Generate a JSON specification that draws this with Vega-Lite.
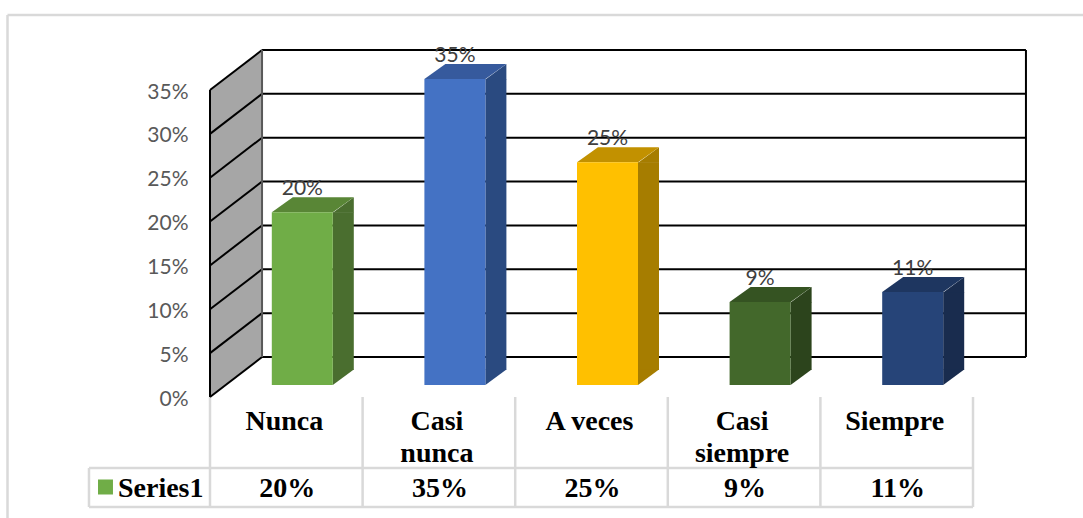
{
"$schema":"https://vega.github.io/schema/vega-lite/v6.json",
"width":763,"height":307,
"autosize":{"type":"none"},
"padding":{"left":210,"top":90,"right":110,"bottom":121},
"background":"white",
"view":{"stroke":null},
"config":{"view":{"stroke":null}},
"datasets":{
"respuestas":[
{"respuesta":"Nunca","rotulo":"Nunca","valor":0.197},
{"respuesta":"Casi nunca","rotulo":"Casi\nnunca","valor":0.349},
{"respuesta":"A veces","rotulo":"A veces","valor":0.254},
{"respuesta":"Casi siempre","rotulo":"Casi\nsiempre","valor":0.0946},
{"respuesta":"Siempre","rotulo":"Siempre","valor":0.106}
],
"pared":[
{"col":0,"bajo":0,"alto":0.35},
{"col":0.341,"bajo":0.0456,"alto":0.3956}
],
"negras":[
{"c1":0.341,"c2":5.347,"p1":0.0456,"p2":0.0456},
{"c1":0.341,"c2":5.347,"p1":0.0956,"p2":0.0956},
{"c1":0.341,"c2":5.347,"p1":0.1456,"p2":0.1456},
{"c1":0.341,"c2":5.347,"p1":0.1956,"p2":0.1956},
{"c1":0.341,"c2":5.347,"p1":0.2456,"p2":0.2456},
{"c1":0.341,"c2":5.347,"p1":0.2956,"p2":0.2956},
{"c1":0.341,"c2":5.347,"p1":0.3456,"p2":0.3456},
{"c1":0.341,"c2":5.347,"p1":0.3956,"p2":0.3956},
{"c1":0,"c2":0.341,"p1":0,"p2":0.0456},
{"c1":0,"c2":0.341,"p1":0.05,"p2":0.0956},
{"c1":0,"c2":0.341,"p1":0.10,"p2":0.1456},
{"c1":0,"c2":0.341,"p1":0.15,"p2":0.1956},
{"c1":0,"c2":0.341,"p1":0.20,"p2":0.2456},
{"c1":0,"c2":0.341,"p1":0.25,"p2":0.2956},
{"c1":0,"c2":0.341,"p1":0.30,"p2":0.3456},
{"c1":0,"c2":0.341,"p1":0.35,"p2":0.3956},
{"c1":0,"c2":0,"p1":0,"p2":0.35},
{"c1":5.347,"c2":5.347,"p1":0.0456,"p2":0.3956}
],
"tabla":[
{"c1":0,"c2":0,"p1":0,"p2":-0.1254},
{"c1":1,"c2":1,"p1":0,"p2":-0.1254},
{"c1":2,"c2":2,"p1":0,"p2":-0.1254},
{"c1":3,"c2":3,"p1":0,"p2":-0.1254},
{"c1":4,"c2":4,"p1":0,"p2":-0.1254},
{"c1":5,"c2":5,"p1":0,"p2":-0.1254},
{"c1":-0.793,"c2":-0.793,"p1":-0.081,"p2":-0.1254},
{"c1":-0.793,"c2":5,"p1":-0.081,"p2":-0.081},
{"c1":-0.793,"c2":5,"p1":-0.1254,"p2":-0.1254},
{"c1":-1.327,"c2":5.8,"p1":0.4356,"p2":0.4356},
{"c1":-1.327,"c2":-1.327,"p1":0.4356,"p2":-0.15}
]
},
"layer":[
{"data":{"name":"pared"},"mark":{"type":"area","color":"#a6a6a6","opacity":1},
 "encoding":{
  "x":{"field":"col","type":"quantitative","scale":{"domain":[0,5],"nice":false,"zero":false},"axis":null},
  "y":{"field":"bajo","type":"quantitative","scale":{"domain":[0,0.35],"nice":false},
   "axis":{"title":null,"format":".0%","values":[0,0.05,0.1,0.15,0.2,0.25,0.3,0.35],"domain":false,"ticks":false,"grid":false,"labelPadding":22,"labelOffset":2,"labelFont":"Lato","labelFontSize":21,"labelColor":"#595959","labelBaseline":"middle","labelOverlap":false,"labelBound":false,"labelFlush":false}},
  "y2":{"field":"alto"}}},
{"data":{"name":"tabla"},"mark":{"type":"rule","color":"#d9d9d9","strokeWidth":2.5},
 "encoding":{
  "x":{"field":"c1","type":"quantitative","scale":{"domain":[0,5],"nice":false,"zero":false},"axis":null},
  "x2":{"field":"c2"},
  "y":{"field":"p1","type":"quantitative","scale":{"domain":[0,0.35],"nice":false}},
  "y2":{"field":"p2"}}},
{"data":{"name":"negras"},"mark":{"type":"rule","color":"#000000","strokeWidth":2},
 "encoding":{
  "x":{"field":"c1","type":"quantitative","scale":{"domain":[0,5],"nice":false,"zero":false},"axis":null},
  "x2":{"field":"c2"},
  "y":{"field":"p1","type":"quantitative","scale":{"domain":[0,0.35],"nice":false}},
  "y2":{"field":"p2"}}},
{"data":{"values":[{"c":0.341,"a":0.0456,"b":0.3956}]},"mark":{"type":"rule","color":"#595959","strokeWidth":2},
 "encoding":{
  "x":{"field":"c","type":"quantitative","scale":{"domain":[0,5],"nice":false,"zero":false},"axis":null},
  "y":{"field":"a","type":"quantitative","scale":{"domain":[0,0.35],"nice":false}},
  "y2":{"field":"b"}}},
{"data":{"name":"respuestas"},"mark":{"type":"bar","width":21,"xOffset":57,"yOffset":-12,"y2Offset":-27},
 "encoding":{
  "x":{"field":"respuesta","type":"nominal","sort":null,"scale":{"type":"band","domain":["Nunca","Casi nunca","A veces","Casi siempre","Siempre"],"padding":0},"axis":null},
  "y":{"field":"valor","type":"quantitative","stack":null,"scale":{"domain":[0,0.35],"nice":false}},
  "y2":{"datum":0},
  "color":{"field":"respuesta","type":"nominal","legend":null,"scale":{"domain":["Nunca","Casi nunca","A veces","Casi siempre","Siempre"],"range":["#4a6e2f","#2a4a80","#a67d00","#2c441c","#192c4e"]}}}},
{"data":{"name":"respuestas"},"mark":{"type":"point","filled":true,"opacity":1,"size":4,"strokeWidth":0,"xOffset":46.5,"yOffset":-12,"shape":"M0 0.5L21 -15L21 0.5Z"},
 "encoding":{
  "x":{"field":"respuesta","type":"nominal","sort":null,"scale":{"type":"band","domain":["Nunca","Casi nunca","A veces","Casi siempre","Siempre"],"padding":0},"axis":null},
  "y":{"field":"valor","type":"quantitative","scale":{"domain":[0,0.35],"nice":false}},
  "color":{"field":"respuesta","type":"nominal","legend":null,"scale":{"domain":["Nunca","Casi nunca","A veces","Casi siempre","Siempre"],"range":["#4a6e2f","#2a4a80","#a67d00","#2c441c","#192c4e"]}}}},
{"data":{"name":"respuestas"},"mark":{"type":"point","filled":true,"opacity":1,"size":4,"strokeWidth":0,"xOffset":46.5,"yOffset":-12,"shape":"M0 0L0 -15.5L21 -15.5Z"},
 "encoding":{
  "x":{"field":"respuesta","type":"nominal","sort":null,"scale":{"type":"band","domain":["Nunca","Casi nunca","A veces","Casi siempre","Siempre"],"padding":0},"axis":null},
  "y":{"datum":0,"type":"quantitative","scale":{"domain":[0,0.35],"nice":false}},
  "color":{"field":"respuesta","type":"nominal","legend":null,"scale":{"domain":["Nunca","Casi nunca","A veces","Casi siempre","Siempre"],"range":["#4a6e2f","#2a4a80","#a67d00","#2c441c","#192c4e"]}}}},
{"data":{"name":"respuestas"},"mark":{"type":"point","filled":true,"opacity":1,"size":4,"strokeWidth":0,"xOffset":46.5,"yOffset":-12,"shape":"M-61 0L-40 -15L21 -15L0 0Z"},
 "encoding":{
  "x":{"field":"respuesta","type":"nominal","sort":null,"scale":{"type":"band","domain":["Nunca","Casi nunca","A veces","Casi siempre","Siempre"],"padding":0},"axis":null},
  "y":{"field":"valor","type":"quantitative","scale":{"domain":[0,0.35],"nice":false}},
  "color":{"field":"respuesta","type":"nominal","legend":null,"scale":{"domain":["Nunca","Casi nunca","A veces","Casi siempre","Siempre"],"range":["#598636","#365a9d","#c29100","#355322","#1e3660"]}}}},
{"data":{"name":"respuestas"},"mark":{"type":"bar","width":61,"xOffset":16,"yOffset":-12,"y2Offset":-12},
 "encoding":{
  "x":{"field":"respuesta","type":"nominal","sort":null,"scale":{"type":"band","domain":["Nunca","Casi nunca","A veces","Casi siempre","Siempre"],"padding":0},"axis":null},
  "y":{"field":"valor","type":"quantitative","stack":null,"scale":{"domain":[0,0.35],"nice":false}},
  "y2":{"datum":0},
  "color":{"field":"respuesta","type":"nominal","legend":null,"scale":{"domain":["Nunca","Casi nunca","A veces","Casi siempre","Siempre"],"range":["#70ad47","#4472c4","#ffc000","#43682b","#264478"]}}}},
{"data":{"name":"respuestas"},"mark":{"type":"text","font":"Lato","fontSize":21,"color":"#404040","align":"center","baseline":"alphabetic","xOffset":16,"yOffset":-29},
 "encoding":{
  "x":{"field":"respuesta","type":"nominal","sort":null,"scale":{"type":"band","domain":["Nunca","Casi nunca","A veces","Casi siempre","Siempre"],"padding":0},"axis":null},
  "y":{"field":"valor","type":"quantitative","scale":{"domain":[0,0.35],"nice":false}},
  "text":{"field":"valor","type":"quantitative","format":".0%"}}},
{"data":{"name":"respuestas"},"mark":{"type":"text","font":"Liberation Serif","fontWeight":"bold","fontSize":28,"color":"#000000","align":"center","baseline":"alphabetic","lineBreak":"\n","lineHeight":32,"xOffset":-2,"yOffset":33},
 "encoding":{
  "x":{"field":"respuesta","type":"nominal","sort":null,"scale":{"type":"band","domain":["Nunca","Casi nunca","A veces","Casi siempre","Siempre"],"padding":0},"axis":null},
  "y":{"datum":0,"type":"quantitative","scale":{"domain":[0,0.35],"nice":false}},
  "text":{"field":"rotulo"}}},
{"data":{"name":"respuestas"},"mark":{"type":"text","font":"Liberation Serif","fontWeight":"bold","fontSize":28,"color":"#000000","align":"center","baseline":"alphabetic","xOffset":1,"yOffset":100},
 "encoding":{
  "x":{"field":"respuesta","type":"nominal","sort":null,"scale":{"type":"band","domain":["Nunca","Casi nunca","A veces","Casi siempre","Siempre"],"padding":0},"axis":null},
  "y":{"datum":0,"type":"quantitative","scale":{"domain":[0,0.35],"nice":false}},
  "text":{"field":"valor","type":"quantitative","format":".0%"}}},
{"data":{"values":[{"serie":"Series1","c":-0.685,"p":-0.1026}]},"mark":{"type":"point","shape":"square","filled":true,"opacity":1,"size":225,"color":"#70ad47","strokeWidth":0},
 "encoding":{
  "x":{"field":"c","type":"quantitative","scale":{"domain":[0,5],"nice":false,"zero":false},"axis":null},
  "y":{"field":"p","type":"quantitative","scale":{"domain":[0,0.35],"nice":false}}}},
{"data":{"values":[{"serie":"Series1","c":-0.603,"p":-0.1140}]},"mark":{"type":"text","font":"Liberation Serif","fontWeight":"bold","fontSize":28,"color":"#000000","align":"left","baseline":"alphabetic"},
 "encoding":{
  "x":{"field":"c","type":"quantitative","scale":{"domain":[0,5],"nice":false,"zero":false},"axis":null},
  "y":{"field":"p","type":"quantitative","scale":{"domain":[0,0.35],"nice":false}},
  "text":{"field":"serie"}}}
],
"resolve":{"scale":{"x":"independent","color":"independent"}}
}
